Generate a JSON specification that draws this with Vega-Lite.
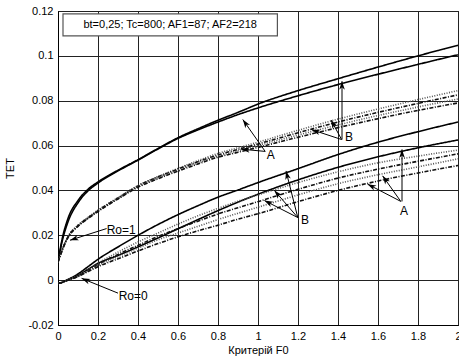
{
  "$schema": "https://vega.github.io/schema/vega-lite/v6.json",
  "width": 400,
  "height": 314,
  "autosize": {"type": "none"},
  "padding": {"left": 58, "top": 11, "right": 1, "bottom": 33},
  "background": "white",
  "config": {
    "view": {"stroke": "black", "strokeWidth": 1},
    "font": "Liberation Sans",
    "axis": {
      "labelFont": "Liberation Sans", "labelFontSize": 11, "labelColor": "black",
      "titleFont": "Liberation Sans", "titleFontSize": 11, "titleFontWeight": "normal", "titleColor": "black",
      "grid": true, "gridColor": "#222", "gridWidth": 1, "gridOpacity": 1,
      "domainColor": "black", "tickColor": "black", "tickSize": 0, "labelOverlap": false, "labelFlush": false
    }
  },
  "datasets": {
    "curves": [
      {"x":0,"S1":0.008,"S2":0.008,"U1":0.008,"U2":0.008,"U3":0.008,"U4":0.008,"L1":-0.0015,"L2":-0.0015,"D1":-0.0015,"D2":-0.0015,"D3":-0.0015,"D4":-0.0015},
      {"x":0.02,"S1":0.018,"S2":0.017,"U1":0.0135,"U2":0.0133,"U3":0.0131,"U4":0.013,"L1":-0.001,"L2":-0.001,"D1":-0.001,"D2":-0.001,"D3":-0.001,"D4":-0.001},
      {"x":0.05,"S1":0.0275,"S2":0.026,"U1":0.0195,"U2":0.0193,"U3":0.0191,"U4":0.019,"L1":0.0003,"L2":0.0002,"D1":0.0002,"D2":0.0001,"D3":0.0001,"D4":0},
      {"x":0.1,"S1":0.0355,"S2":0.0345,"U1":0.0245,"U2":0.0243,"U3":0.0241,"U4":0.024,"L1":0.0028,"L2":0.0022,"D1":0.002,"D2":0.0018,"D3":0.0017,"D4":0.0016},
      {"x":0.15,"S1":0.0405,"S2":0.0398,"U1":0.028,"U2":0.0278,"U3":0.0276,"U4":0.0275,"L1":0.006,"L2":0.0048,"D1":0.0045,"D2":0.0042,"D3":0.004,"D4":0.0038},
      {"x":0.2,"S1":0.0438,"S2":0.0433,"U1":0.0312,"U2":0.031,"U3":0.0308,"U4":0.0306,"L1":0.0093,"L2":0.0075,"D1":0.0075,"D2":0.007,"D3":0.0065,"D4":0.006},
      {"x":0.3,"S1":0.049,"S2":0.0487,"U1":0.0368,"U2":0.0366,"U3":0.0364,"U4":0.0362,"L1":0.0148,"L2":0.011,"D1":0.0125,"D2":0.0115,"D3":0.0105,"D4":0.0095},
      {"x":0.4,"S1":0.0537,"S2":0.0535,"U1":0.0422,"U2":0.042,"U3":0.0417,"U4":0.0414,"L1":0.02,"L2":0.0148,"D1":0.017,"D2":0.0155,"D3":0.0143,"D4":0.013},
      {"x":0.5,"S1":0.0587,"S2":0.0585,"U1":0.0462,"U2":0.046,"U3":0.0456,"U4":0.0452,"L1":0.0248,"L2":0.0188,"D1":0.021,"D2":0.0195,"D3":0.018,"D4":0.0163},
      {"x":0.6,"S1":0.0635,"S2":0.0632,"U1":0.0498,"U2":0.0495,"U3":0.049,"U4":0.0486,"L1":0.0292,"L2":0.0229,"D1":0.025,"D2":0.023,"D3":0.021,"D4":0.0193},
      {"x":0.7,"S1":0.0675,"S2":0.067,"U1":0.0533,"U2":0.0528,"U3":0.0523,"U4":0.0518,"L1":0.0332,"L2":0.027,"D1":0.0287,"D2":0.0263,"D3":0.024,"D4":0.022},
      {"x":0.8,"S1":0.0713,"S2":0.0705,"U1":0.0565,"U2":0.0558,"U3":0.0553,"U4":0.0548,"L1":0.037,"L2":0.031,"D1":0.032,"D2":0.0295,"D3":0.027,"D4":0.0245},
      {"x":0.9,"S1":0.0748,"S2":0.0738,"U1":0.059,"U2":0.0583,"U3":0.0577,"U4":0.057,"L1":0.0402,"L2":0.0348,"D1":0.0352,"D2":0.0323,"D3":0.0298,"D4":0.0272},
      {"x":1.0,"S1":0.0785,"S2":0.0768,"U1":0.0615,"U2":0.0607,"U3":0.06,"U4":0.0592,"L1":0.0435,"L2":0.0383,"D1":0.038,"D2":0.035,"D3":0.0325,"D4":0.0296},
      {"x":1.2,"S1":0.0845,"S2":0.0822,"U1":0.0668,"U2":0.0657,"U3":0.0647,"U4":0.0637,"L1":0.0497,"L2":0.0447,"D1":0.0435,"D2":0.0405,"D3":0.038,"D4":0.035},
      {"x":1.4,"S1":0.0898,"S2":0.0872,"U1":0.0718,"U2":0.0705,"U3":0.0692,"U4":0.068,"L1":0.056,"L2":0.0503,"D1":0.0483,"D2":0.0455,"D3":0.043,"D4":0.04},
      {"x":1.6,"S1":0.095,"S2":0.0918,"U1":0.0763,"U2":0.0748,"U3":0.0734,"U4":0.072,"L1":0.0615,"L2":0.055,"D1":0.0523,"D2":0.0495,"D3":0.047,"D4":0.0442},
      {"x":1.8,"S1":0.1,"S2":0.0962,"U1":0.0805,"U2":0.0788,"U3":0.0772,"U4":0.0757,"L1":0.0662,"L2":0.059,"D1":0.0553,"D2":0.053,"D3":0.0505,"D4":0.0478},
      {"x":2.0,"S1":0.1047,"S2":0.1005,"U1":0.0845,"U2":0.0826,"U3":0.0808,"U4":0.079,"L1":0.0705,"L2":0.0625,"D1":0.058,"D2":0.0563,"D3":0.0541,"D4":0.0511}
    ],
    "arrows": [
      {"x":0.243,"y":0.023,"hx":0.06,"hy":0.0178,"a":-107.7},
      {"x":0.30,"y":-0.0058,"hx":0.118,"hy":0.0008,"a":-67.9},
      {"x":1.036,"y":0.0574,"hx":0.924,"hy":0.0716,"a":-35.1},
      {"x":1.036,"y":0.0574,"hx":0.916,"hy":0.0584,"a":-84.8},
      {"x":1.42,"y":0.0627,"hx":1.42,"hy":0.0887,"a":0},
      {"x":1.418,"y":0.0627,"hx":1.365,"hy":0.0714,"a":-28.5},
      {"x":1.418,"y":0.0627,"hx":1.268,"hy":0.0671,"a":-71.7},
      {"x":1.199,"y":0.0279,"hx":1.14,"hy":0.0487,"a":-14.2},
      {"x":1.199,"y":0.0279,"hx":1.082,"hy":0.040,"a":-40.8},
      {"x":1.199,"y":0.0279,"hx":1.032,"hy":0.0355,"a":-63.0},
      {"x":1.72,"y":0.0351,"hx":1.72,"hy":0.0583,"a":0},
      {"x":1.714,"y":0.0351,"hx":1.623,"hy":0.0465,"a":-35.4},
      {"x":1.714,"y":0.0351,"hx":1.548,"hy":0.0428,"a":-62.5}
    ],
    "labels": [
      {"x":0.316,"y":0.0223,"t":"Ro=1"},
      {"x":0.376,"y":-0.0072,"t":"Ro=0"},
      {"x":1.064,"y":0.056,"t":"A"},
      {"x":1.455,"y":0.0637,"t":"B"},
      {"x":1.235,"y":0.0269,"t":"B"},
      {"x":1.73,"y":0.031,"t":"A"}
    ],
    "box": [
      {"x":0.025,"x2":1.097,"y":0.1187,"y2":0.1089,"xc":0.561,"yc":0.1138,"t":"bt=0,25; Tc=800; AF1=87; AF2=218"}
    ]
  },
  "layer": [
    {
      "data": {"name": "curves"},
      "transform": [{"fold": ["S1","S2","U1","U2","U3","U4","L1","L2","D1","D2","D3","D4"], "as": ["c","y"]}],
      "mark": {"type": "line", "interpolate": "monotone", "clip": true},
      "encoding": {
        "x": {"field": "x", "type": "quantitative",
              "scale": {"domain": [0, 2], "nice": false},
              "axis": {"values": [0,0.2,0.4,0.6,0.8,1,1.2,1.4,1.6,1.8,2], "tickCount": 20, "format": ".1~f", "title": "Критерій F0", "labelPadding": 5, "titlePadding": 3}},
        "y": {"field": "y", "type": "quantitative",
              "scale": {"domain": [-0.02, 0.12], "nice": false},
              "axis": {"values": [-0.02,0,0.02,0.04,0.06,0.08,0.1,0.12], "tickCount": 20, "format": ".2~f", "labelExpr": "replace(datum.label, '−', '-')", "title": "TET", "labelPadding": 5, "titlePadding": 12}},
        "detail": {"field": "c"},
        "color": {"field": "c", "type": "nominal", "legend": null,
                  "scale": {"domain": ["S1","S2","U1","U2","U3","U4","L1","L2","D1","D2","D3","D4"],
                            "range": ["#000","#000","#555","#111","#555","#111","#000","#000","#555","#111","#555","#111"]}},
        "strokeDash": {"field": "c", "type": "nominal", "legend": null,
                  "scale": {"domain": ["S1","S2","U1","U2","U3","U4","L1","L2","D1","D2","D3","D4"],
                            "range": [[1,0],[1,0],[1,1.5],[4,1.5,1,1.5],[1,1.5],[4,1.5,1,1.5],[1,0],[1,0],[1,1.5],[4,1.5,1,1.5],[1,1.5],[4,1.5,1,1.5]]}},
        "strokeWidth": {"field": "c", "type": "nominal", "legend": null,
                  "scale": {"domain": ["S1","S2","U1","U2","U3","U4","L1","L2","D1","D2","D3","D4"],
                            "range": [1.6,1.6,1,1.3,1,1.3,1.6,1.6,1,1.3,1,1.3]}}
      }
    },
    {
      "data": {"name": "box"},
      "mark": {"type": "rect", "fill": "white", "stroke": "#555", "strokeWidth": 1.2},
      "encoding": {
        "x": {"field": "x", "type": "quantitative"},
        "x2": {"field": "x2"},
        "y": {"field": "y", "type": "quantitative"},
        "y2": {"field": "y2"}
      }
    },
    {
      "data": {"name": "box"},
      "mark": {"type": "text", "fontSize": 11, "font": "Liberation Sans", "color": "black", "align": "center", "baseline": "middle"},
      "encoding": {
        "x": {"field": "xc", "type": "quantitative"},
        "y": {"field": "yc", "type": "quantitative"},
        "text": {"field": "t"}
      }
    },
    {
      "data": {"name": "arrows"},
      "mark": {"type": "rule", "color": "black", "strokeWidth": 1},
      "encoding": {
        "x": {"field": "x", "type": "quantitative"},
        "y": {"field": "y", "type": "quantitative"},
        "x2": {"field": "hx"},
        "y2": {"field": "hy"}
      }
    },
    {
      "data": {"name": "arrows"},
      "mark": {"type": "point", "shape": "M0,0L-0.6,1.8L0,1.3L0.6,1.8Z", "filled": true, "color": "black", "size": 90, "opacity": 1},
      "encoding": {
        "x": {"field": "hx", "type": "quantitative"},
        "y": {"field": "hy", "type": "quantitative"},
        "angle": {"field": "a", "type": "quantitative", "scale": null}
      }
    },
    {
      "data": {"name": "labels"},
      "mark": {"type": "text", "fontSize": 12, "font": "Liberation Sans", "color": "black", "align": "center", "baseline": "middle"},
      "encoding": {
        "x": {"field": "x", "type": "quantitative"},
        "y": {"field": "y", "type": "quantitative"},
        "text": {"field": "t"}
      }
    }
  ]
}
